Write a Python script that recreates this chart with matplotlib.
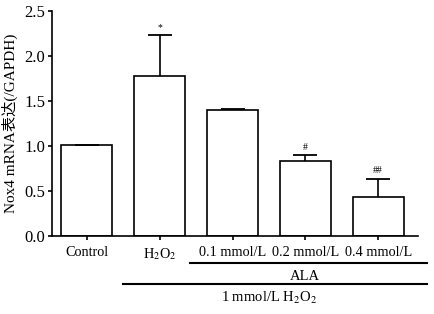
import numpy as np
import matplotlib.pyplot as plt

groups = ['Control', 'H$_2$O$_2$', '0.1 mmol/L', '0.2 mmol/L', '0.4 mmol/L']
values = [1.01, 1.78, 1.40, 0.84, 0.44]
errors = [0.0, 0.45, 0.01, 0.06, 0.20]
marks = ['', '*', '', '#', '##']

plt.rcParams['font.family'] = ['Liberation Serif', 'Noto Sans CJK SC']
plt.rcParams['mathtext.fontset'] = 'stix'
plt.rcParams['font.size'] = 12

fig = plt.figure(figsize=(4.35, 3.14), dpi=100)
ax = fig.add_axes([0.1195, 0.248, 0.842, 0.7166])

x = np.arange(len(groups))
ax.bar(x, values, width=0.7, color='white', edgecolor='black', linewidth=1.2, zorder=2)
tops = np.array(values) + np.array(errors)
ax.vlines(x, values, tops, color='black', lw=1.2, zorder=1)
ax.plot(x, tops, linestyle='none', marker='_', markersize=17, markeredgewidth=1.3,
        color='black', zorder=3)

for xi, t, m in zip(x, tops, marks):
    if m:
        ax.text(xi, t + 0.04, m, ha='center', va='bottom', fontsize=7)

ax.set_xlim(-0.48, 4.55)
ax.set_ylim(0, 2.5)
ax.set_yticks([0, 0.5, 1.0, 1.5, 2.0, 2.5])
ax.set_yticklabels(['0.0', '0.5', '1.0', '1.5', '2.0', '2.5'])
ax.set_xticks(x)
ax.set_xticklabels(groups, fontsize=10.3)
ax.spines['top'].set_visible(False)
ax.spines['right'].set_visible(False)
ax.spines['left'].set_linewidth(1.2)
ax.spines['bottom'].set_linewidth(1.2)
ax.tick_params(length=3, width=1.2, pad=2)
ax.tick_params(axis='x', pad=4)
ax.set_ylabel('Nox4 mRNA表达(/GAPDH)', labelpad=4, fontsize=11)

# group lines below the axis
def fx(px):
    return px / 435
def fy(py):
    return 1 - py / 314
fig.add_artist(plt.Line2D([fx(190), fx(427)], [fy(263), fy(263)], color='black', lw=1.5))
fig.text(fx(305), fy(276), 'ALA', ha='center', va='center', fontsize=10.5)
fig.add_artist(plt.Line2D([fx(123), fx(427)], [fy(284), fy(284)], color='black', lw=1.5))
fig.text(fx(269), fy(298), '1 mmol/L H$_2$O$_2$', ha='center', va='center', fontsize=10.5)

fig.savefig('out.png', dpi=100)
